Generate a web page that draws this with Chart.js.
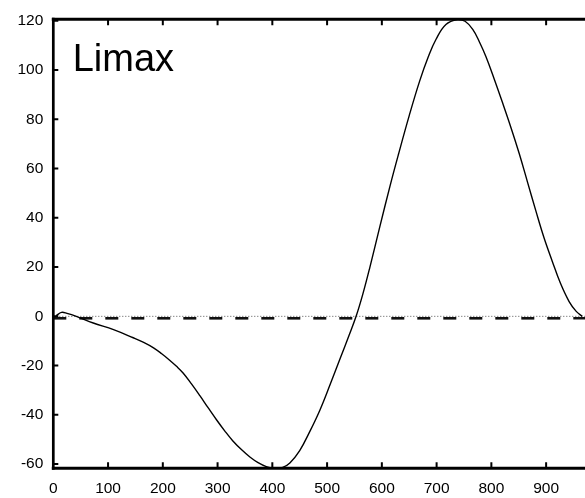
<!DOCTYPE html>
<html lang="en">
<head>
<meta charset="UTF-8">
<title>Limax</title>
<script src="https://cdn.jsdelivr.net/npm/chart.js"></script>
<style>
  html, body { margin: 0; padding: 0; background: #fff; overflow: hidden; }
  #wrap { width: 585px; height: 498px; }
</style>
</head>
<body>
<div id="wrap"><canvas id="limaxChart" width="585" height="498"></canvas></div>
<script>
// curve
const curveX = [5, 15, 25, 42, 73, 110, 146, 165, 183, 198, 213, 225, 237, 252, 268, 283, 298, 313, 328, 344, 359, 374, 389, 405, 419,
  432, 450, 469, 487, 505, 524, 540, 553, 565, 578, 597, 615, 630, 650, 669, 685, 699, 717, 738,
  752, 766, 778, 790, 805, 820, 836, 851, 866, 881, 896, 911, 926, 942, 955, 966];
const curveY = [0.2, 1.6, 1.2, 0, -2.7, -5.4, -8.7, -10.6, -12.8, -15.2, -17.9, -20.3, -23, -27.3, -32.3, -37.2, -42, -46.5, -50.6, -54.2, -57.1, -59.4, -61, -61.7, -61.3,
  -59.5, -54.5, -46.5, -38, -28, -17, -7.8, 0, 8.8, 19.8, 37, 53, 65.5, 81.5, 95.5, 105.5, 112.5, 118.5, 120.5,
  119.8, 116.5, 111.5, 105.5, 96.5, 87, 76.5, 66, 54.5, 43, 32, 22.5, 13.5, 6, 2, 0];

// reference lines
const zeroLineX = [0, 971];
const zeroLineY = [0, 0];
const dashLineX = [0, 971];
const dashLineY = [-0.8, -0.8];

const xMin = 0, xMax = 971, xStep = 100;
const yMin = -61.7, yMax = 120.6, yStep = 20;
const panelLabel = 'Limax';

function toPoints(xs, ys) {
  return xs.map((x, i) => ({ x: x, y: ys[i] }));
}

// frame with inward ticks on left, bottom and top, plus the panel label
const framePlugin = {
  id: 'frame',
  afterDatasetsDraw(chart) {
    const { ctx, chartArea: a, scales } = chart;
    const xs = scales.x, ys = scales.y;
    ctx.save();
    ctx.strokeStyle = '#000';
    ctx.lineCap = 'butt';

    // axis lines
    ctx.lineWidth = 3;
    ctx.beginPath();
    ctx.moveTo(a.left - 1.5, a.top);
    ctx.lineTo(a.right + 2, a.top);
    ctx.moveTo(a.left - 1.5, a.bottom);
    ctx.lineTo(a.right + 2, a.bottom);
    ctx.stroke();
    ctx.lineWidth = 2.7;
    ctx.beginPath();
    ctx.moveTo(a.left, a.top - 1.5);
    ctx.lineTo(a.left, a.bottom + 1.5);
    ctx.stroke();

    // ticks
    ctx.lineWidth = 2;
    ctx.beginPath();
    xs.ticks.forEach(t => {
      const px = xs.getPixelForValue(t.value);
      if (px <= a.left + 2) return;
      ctx.moveTo(px, a.bottom);
      ctx.lineTo(px, a.bottom - 6);
      ctx.moveTo(px, a.top);
      ctx.lineTo(px, a.top + 6);
    });
    ys.ticks.forEach(t => {
      const py = ys.getPixelForValue(t.value);
      ctx.moveTo(a.left, py);
      ctx.lineTo(a.left + 5, py);
    });
    ctx.stroke();

    // panel label
    ctx.fillStyle = '#000';
    ctx.font = '38px "Liberation Sans", Arial, sans-serif';
    ctx.textAlign = 'left';
    ctx.textBaseline = 'alphabetic';
    ctx.fillText(panelLabel, 72.7, 70.7);
    ctx.restore();
  }
};

const ctx = document.getElementById('limaxChart');
new Chart(ctx, {
  type: 'line',
  data: {
    datasets: [
      {
        label: 'zero',
        data: toPoints(zeroLineX, zeroLineY),
        borderColor: '#555',
        borderWidth: 1,
        borderDash: [1, 2],
        pointRadius: 0,
        fill: false,
        order: 3
      },
      {
        label: 'dashed',
        data: toPoints(dashLineX, dashLineY),
        borderColor: '#111',
        borderWidth: 2.6,
        borderDash: [13, 13],
        pointRadius: 0,
        fill: false,
        order: 2
      },
      {
        label: 'Limax',
        data: toPoints(curveX, curveY),
        borderColor: '#000',
        borderWidth: 1.4,
        tension: 0.4,
        pointRadius: 0,
        fill: false,
        order: 1
      }
    ]
  },
  options: {
    responsive: false,
    animation: false,
    events: [],
    layout: { padding: { top: 15.3, right: 0, left: 0, bottom: 0 } },
    plugins: {
      legend: { display: false },
      tooltip: { enabled: false },
      title: { display: false }
    },
    scales: {
      x: {
        type: 'linear',
        min: xMin,
        max: xMax,
        grid: { display: false, drawTicks: false },
        border: { display: false },
        ticks: {
          stepSize: xStep,
          includeBounds: false,
          maxRotation: 0,
          autoSkip: false,
          padding: 11,
          color: '#000',
          font: { family: '"Liberation Sans", Arial, sans-serif', size: 15.5 }
        },
        afterFit(scale) { scale.height = 29.7; }
      },
      y: {
        type: 'linear',
        min: yMin,
        max: yMax,
        grid: { display: false, drawTicks: false },
        border: { display: false },
        ticks: {
          stepSize: yStep,
          includeBounds: false,
          autoSkip: false,
          padding: 10,
          color: '#000',
          font: { family: '"Liberation Sans", Arial, sans-serif', size: 15.5 }
        },
        afterFit(scale) { scale.width = 53.3; }
      }
    }
  },
  plugins: [framePlugin]
});
</script>
</body>
</html>
